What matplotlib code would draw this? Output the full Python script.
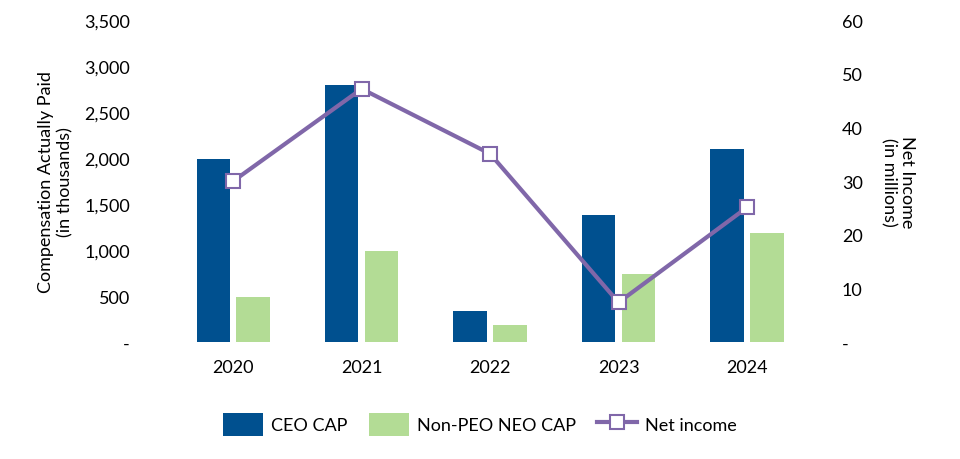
import matplotlib.pyplot as plt
import numpy as np
from matplotlib.ticker import FuncFormatter

years = ['2020', '2021', '2022', '2023', '2024']
ceo_cap = [1990, 2790, 340, 1385, 2095]
neo_cap = [490, 995, 185, 740, 1190]
net_income = [30.0, 47.2, 35.1, 7.4, 25.1]

plt.rcParams['font.family'] = ['Lato', 'DejaVu Sans']

fig = plt.figure(figsize=(9.6, 4.6), dpi=100)
ax = fig.add_axes([0.176, 0.254, 0.669, 0.7])
ax2 = ax.twinx()

x = np.arange(len(years))
w = 0.26
ax.bar(x - 0.155, ceo_cap, w, color='#00508F', label='CEO CAP')
ax.bar(x + 0.155, neo_cap, w, color='#B3DC95', label='Non-PEO NEO CAP')
ax2.plot(x, net_income, color='#8067A9', lw=3, marker='s', ms=10,
         mfc='white', mec='#8067A9', mew=1.5, label='Net income')

ax.set_xlim(-0.5, len(years) - 0.5)
ax.set_ylim(0, 3500)
ax2.set_ylim(0, 60)
ax.set_yticks(range(0, 3501, 500))
ax2.set_yticks(range(0, 61, 10))
ax.set_xticks(x)
ax.set_xticklabels(years)

def dash_zero(v, pos):
    return '-' if v == 0 else f'{v:,.0f}'

ax.yaxis.set_major_formatter(FuncFormatter(dash_zero))
ax2.yaxis.set_major_formatter(FuncFormatter(dash_zero))

for a in (ax, ax2):
    for s in a.spines.values():
        s.set_visible(False)
    a.tick_params(length=0, labelsize=13, colors='black')
ax.tick_params(axis='y', pad=28)
ax.tick_params(axis='x', pad=12)
ax2.tick_params(axis='y', pad=22)

ax.set_ylabel('Compensation Actually Paid\n(in thousands)', fontsize=13, labelpad=8)
ax2.set_ylabel('Net Income\n(in millions)', fontsize=13, rotation=-90, labelpad=38)

h1, l1 = ax.get_legend_handles_labels()
h2, l2 = ax2.get_legend_handles_labels()
fig.legend(h1 + h2, l1 + l2, loc='center', bbox_to_anchor=(0.5, 0.075), ncol=3,
           frameon=False, fontsize=13, handlelength=2.2, handleheight=1.6,
           columnspacing=1.2, handletextpad=0.45)

plt.savefig('out.png', dpi=100)
